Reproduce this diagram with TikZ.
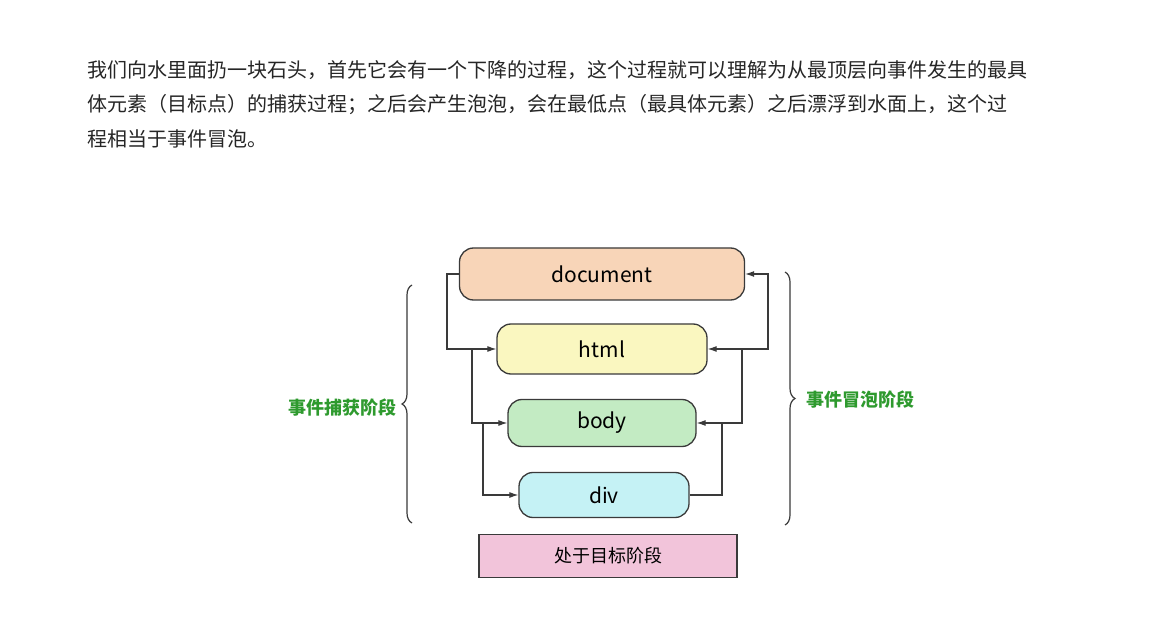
\documentclass[tikz,border=0pt]{standalone}
\usepackage{fontspec}
\setmainfont{Noto Sans CJK SC}
\usetikzlibrary{arrows.meta,decorations.pathreplacing}
\definecolor{doc}{HTML}{F8D5B8}
\definecolor{htm}{HTML}{FAF7C0}
\definecolor{bod}{HTML}{C3EBC3}
\definecolor{dv}{HTML}{C5F2F5}
\definecolor{tgt}{HTML}{F2C4DA}
\definecolor{lab}{HTML}{2E9A2E}
\definecolor{ln}{HTML}{3A3A3A}
\begin{document}
\begin{tikzpicture}[x=1pt,y=-1pt,
  box/.style={draw=ln,line width=1.3pt,rounded corners=14pt,inner sep=0pt,font=\fontsize{21}{24}\selectfont},
  conn/.style={draw=ln,line width=1.1pt},
  arr/.style={conn,-{Latex[length=9pt,width=6pt]}},
  lbl/.style={text=lab,font=\fontsize{18}{21}\selectfont\bfseries},
  para/.style={anchor=west,font=\fontsize{20}{24}\selectfont,text=black!85}]
\useasboundingbox[fill=white] (0,0) rectangle (1170,617);
\node[para] (l1) at (84,70) {我们向水里面扔一块石头，首先它会有一个下降的过程，这个过程就可以理解为从最顶层向事件发生的最具};
\node[para] (l2) at (84,105) {体元素（目标点）的捕获过程；之后会产生泡泡，会在最低点（最具体元素）之后漂浮到水面上，这个过};
\node[para] (l3) at (84,139) {程相当于事件冒泡。};
\node[box,fill=doc,minimum width=285pt,minimum height=52pt] (doc) at (602,274) {document};
\node[box,fill=htm,minimum width=210pt,minimum height=50pt] (html) at (602,349) {html};
\node[box,fill=bod,minimum width=188pt,minimum height=47pt] (body) at (602,423) {body};
\node[box,fill=dv,minimum width=170pt,minimum height=45pt] (div) at (604,495) {div};
\node[draw=ln,line width=1.3pt,fill=tgt,minimum width=258pt,minimum height=43pt,font=\fontsize{18}{21}\selectfont] (tgt) at (608,556) {处于目标阶段};
\coordinate (a1) at (447,274); \coordinate (a2) at (472,349); \coordinate (a3) at (483,423);
\draw[arr] (doc.west) -- (a1) |- (html.west);
\draw[arr] (a2) |- (body.west);
\draw[arr] (a3) |- (div.west);
\coordinate (b1) at (722,423); \coordinate (b2) at (742,349); \coordinate (b3) at (768,274);
\draw[arr] (div.east) -| (b1) -- (body.east);
\draw[arr] (b1) -- (742,423) |- (html.east);
\draw[arr] (b2) -- (768,349) |- (doc.east);
\coordinate (lt) at (412,285); \coordinate (lb) at (412,523);
\coordinate (rt) at (785,272); \coordinate (rb) at (785,525);
\draw[conn,line width=1.2pt,decorate,decoration={brace,amplitude=10pt}] (lb) -- (lt);
\draw[conn,line width=1.2pt,decorate,decoration={brace,amplitude=10pt}] (rt) -- (rb);
\node[lbl] (ll) at (342,408) {事件捕获阶段};
\node[lbl] (rl) at (860,400) {事件冒泡阶段};
\end{tikzpicture}
\end{document}
